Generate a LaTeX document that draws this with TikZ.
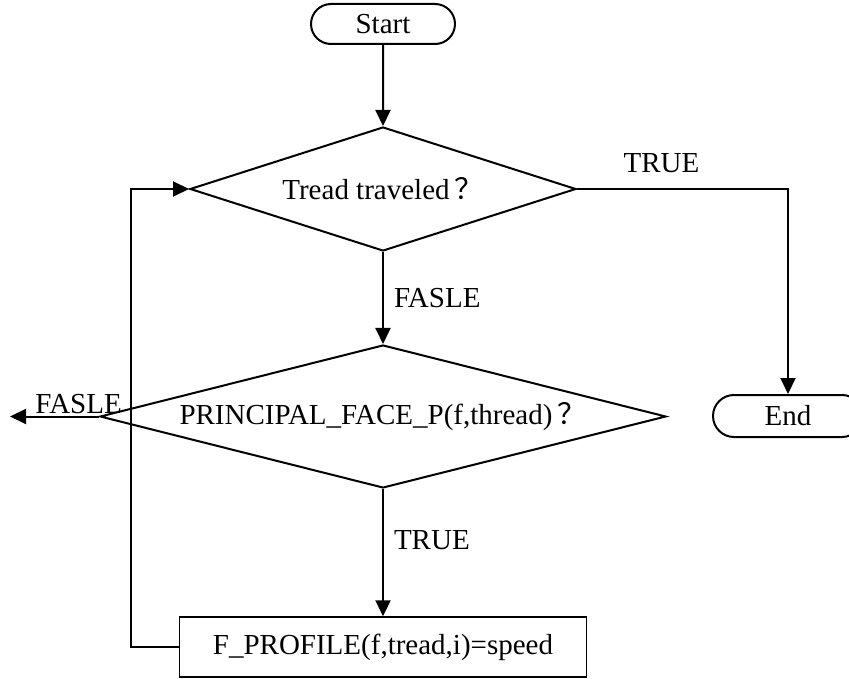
\documentclass[tikz,border=0pt]{standalone}
\usepackage{fontspec}
\setmainfont{Liberation Serif}
\newfontfamily\cjk{Noto Sans CJK SC}
\usepackage{tikz}
\usetikzlibrary{arrows.meta,shapes.geometric,shapes.misc,positioning}

\begin{document}
\begin{tikzpicture}[
  x=1pt, y=-1pt,
  font=\fontsize{29}{34}\selectfont,
  line width=2pt,
  terminal/.style={draw, rounded rectangle, minimum height=40pt, inner sep=0pt},
  decision/.style={draw, diamond, inner sep=0pt},
  process/.style={draw, line width=1.4pt, minimum width=407pt, minimum height=60pt, inner sep=0pt},
  arr/.style={-{Triangle[length=16pt,width=15pt]}, line width=2pt},
  lbl/.style={inner sep=2pt}
]
\useasboundingbox (0,0) rectangle (849,679);
\node[terminal, minimum width=144pt] (start) at (383,24) {Start};
\node[decision, minimum width=386pt, minimum height=124pt, aspect=3.1] (travel) at (383,189) {Tread traveled\hspace{5pt}{\cjk ？}};
\node[decision, minimum width=566pt, minimum height=143pt, aspect=3.96] (principal) at (383,416.5) {PRINCIPAL\_FACE\_P(f,thread)\hspace{5pt}{\cjk ？}};
\node[process] (profile) at (383,647) {F\_PROFILE(f,tread,i)=speed};
\node[terminal, minimum width=150pt, minimum height=42pt] (end) at (788,416) {End};
\coordinate (exit) at (10,416.5);
\draw[arr] (start) -- (travel);
\draw[arr] (travel) -- node[right, lbl, xshift=8pt] {FASLE} (principal);
\draw[arr] (principal) -- node[pos=0.4, right, lbl, xshift=8pt] {TRUE} (profile);
\draw[arr] (travel.east) -| node[pos=0.2, above, lbl, yshift=13pt] {TRUE} (end.north);
\draw[arr] (principal.west) -- node[pos=0.23, above, lbl] {FASLE} (exit);
\draw[arr] (profile.west) -- ++(-48,0) |- (travel.west);
\end{tikzpicture}
\end{document}
